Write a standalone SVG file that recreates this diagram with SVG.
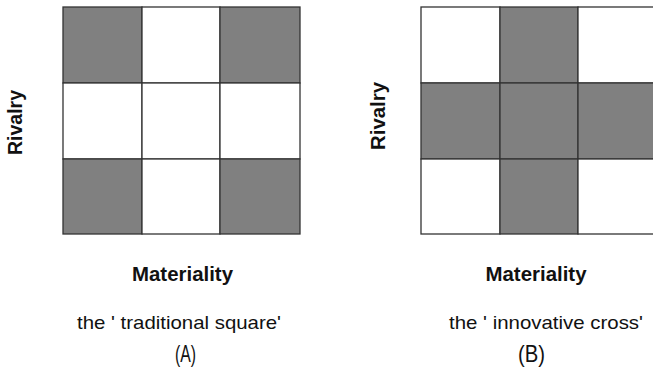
<svg xmlns="http://www.w3.org/2000/svg" width="653" height="374" viewBox="0 0 653 374">
<style>
.g{fill:#808080}
.w{fill:#ffffff}
.c{stroke:#333333;stroke-width:1.3}
.ax{font-family:"Liberation Sans",Arial,sans-serif;font-weight:bold;font-size:20px;fill:#111}
.cap{font-family:"Liberation Sans",Arial,sans-serif;font-size:19px;fill:#111}
.lab{font-family:"Liberation Sans",Arial,sans-serif;font-size:24px;fill:#111}
</style>
<rect width="653" height="374" fill="#fff"/>
<g id="gridA">
<rect class="g c" x="63" y="7" width="79" height="76"/>
<rect class="w c" x="142" y="7" width="78" height="76"/>
<rect class="g c" x="220" y="7" width="80" height="76"/>
<rect class="w c" x="63" y="83" width="79" height="76"/>
<rect class="w c" x="142" y="83" width="78" height="76"/>
<rect class="w c" x="220" y="83" width="80" height="76"/>
<rect class="g c" x="63" y="159" width="79" height="75"/>
<rect class="w c" x="142" y="159" width="78" height="75"/>
<rect class="g c" x="220" y="159" width="80" height="75"/>
</g>
<g id="gridB">
<rect class="w c" x="421" y="7" width="79" height="76"/>
<rect class="g c" x="500" y="7" width="78" height="76"/>
<rect class="w c" x="578" y="7" width="80" height="76"/>
<rect class="g c" x="421" y="83" width="79" height="76"/>
<rect class="g c" x="500" y="83" width="78" height="76"/>
<rect class="g c" x="578" y="83" width="80" height="76"/>
<rect class="w c" x="421" y="159" width="79" height="75"/>
<rect class="g c" x="500" y="159" width="78" height="75"/>
<rect class="w c" x="578" y="159" width="80" height="75"/>
</g>
<g id="labelsA">
<text class="ax" transform="translate(22,122.5) rotate(-90)" text-anchor="middle" textLength="65" lengthAdjust="spacingAndGlyphs">Rivalry</text>
<text class="ax" x="182.5" y="281" text-anchor="middle" textLength="101" lengthAdjust="spacingAndGlyphs">Materiality</text>
<text class="cap" x="179" y="329" text-anchor="middle" textLength="204" lengthAdjust="spacingAndGlyphs">the ' traditional square'</text>
<text class="lab" x="185.5" y="362" text-anchor="middle" textLength="21" lengthAdjust="spacingAndGlyphs">(A)</text>
</g>
<g id="labelsB">
<text class="ax" transform="translate(385,116) rotate(-90)" text-anchor="middle" textLength="68" lengthAdjust="spacingAndGlyphs">Rivalry</text>
<text class="ax" x="536" y="281" text-anchor="middle" textLength="101" lengthAdjust="spacingAndGlyphs">Materiality</text>
<text class="cap" x="546" y="329" text-anchor="middle" textLength="194" lengthAdjust="spacingAndGlyphs">the ' innovative cross'</text>
<text class="lab" x="531.5" y="362" text-anchor="middle" textLength="27" lengthAdjust="spacingAndGlyphs">(B)</text>
</g>
</svg>
